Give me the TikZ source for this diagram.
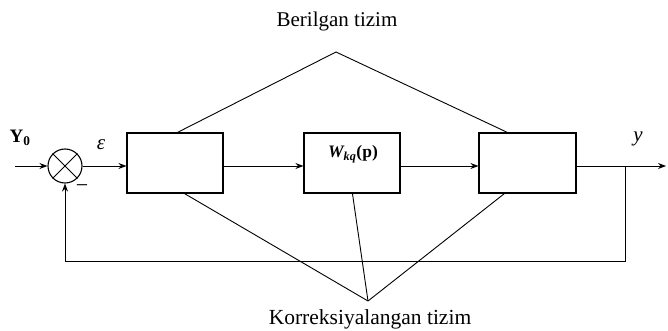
\documentclass[tikz,border=0pt]{standalone}
\usepackage{fontspec}
\setmainfont{Liberation Serif}
\usetikzlibrary{arrows.meta}
\begin{document}
\begin{tikzpicture}[x=1pt,y=-1pt,
  blk/.style={draw,line width=1.1pt,minimum width=96pt,minimum height=60pt,inner sep=0pt},
  sumc/.style={draw,circle,line width=1.1pt,minimum size=34pt,inner sep=0pt},
  ln/.style={line width=0.9pt},
  arr/.style={line width=0.9pt,-{Stealth[length=8pt,width=6pt]}},
  lbl/.style={inner sep=0pt,font=\fontsize{17}{20}\selectfont}]
\useasboundingbox (0,0) rectangle (668,331);
\node[sumc] (s) at (65,166) {};
\draw[ln] (s.45) -- (s.225) (s.135) -- (s.315);
\node[blk] (b1) at (175,163) {};
\node[blk,minimum width=96pt] (b2) at (352,163) {};
\node[blk,minimum width=97pt] (b3) at (527.5,163) {};
\node[lbl,font=\fontsize{17.5}{20}\selectfont] (w) at (353,154) {{\bfseries\itshape W}\textsubscript{\bfseries\itshape kq}{\bfseries(p)}};
\coordinate (in) at (15,166);
\coordinate (out) at (666,166);
\coordinate (br) at (625,166);
\coordinate (fbr) at (625,261);
\coordinate (fbl) at (65,261);
\coordinate (apT) at (336,52);
\coordinate (apB) at (368,301);
\node[lbl,font=\bfseries\fontsize{19}{22}\selectfont] (y0) at (20,138) {Y\textsubscript{0}};
\node[lbl,font=\itshape\fontsize{21}{24}\selectfont] (eps) at (101,145) {ε};
\node[lbl,font=\itshape\fontsize{21}{24}\selectfont] (yl) at (638,139) {y};
\node[lbl,font=\fontsize{22}{24}\selectfont] (mn) at (82,189) {−};
\node[lbl,font=\fontsize{21}{25}\selectfont] (t1) at (337,21) {Berilgan tizim};
\node[lbl,font=\fontsize{21.5}{25}\selectfont] (t2) at (370,319) {Korreksiyalangan tizim};
\draw[arr] (in) -- (s.west);
\draw[arr] (s.east) -- (b1.west |- s.east);
\draw[arr] (b1.east |- 0,166) -- (b2.west |- 0,166);
\draw[arr] (b2.east |- 0,166) -- (b3.west |- 0,166);
\draw[arr] (b3.east |- 0,166) -- (out);
\draw[ln] (br) -- (fbr) -- (fbl);
\draw[arr] (fbl) -- (s.south);
\draw[ln] ([xshift=51pt]b1.north west) -- (apT) -- ([xshift=29pt]b3.north west);
\draw[ln] ([xshift=58pt]b1.south west) -- (apB);
\draw[ln] ([xshift=49pt]b2.south west) -- (apB);
\draw[ln] ([xshift=26pt]b3.south west) -- (apB);
\end{tikzpicture}
\end{document}
